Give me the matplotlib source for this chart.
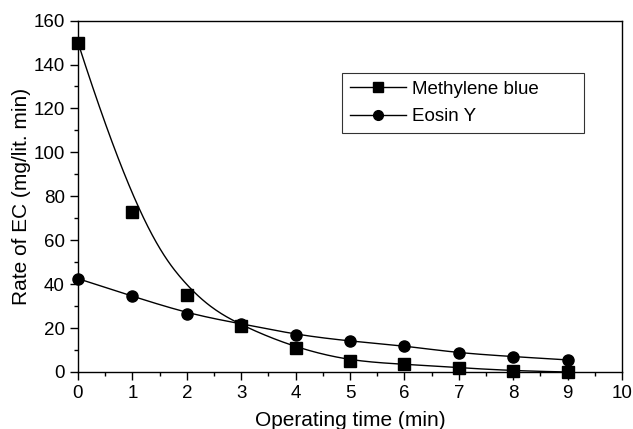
import numpy as np
import matplotlib
matplotlib.use("Agg")
import matplotlib.pyplot as plt
from matplotlib.ticker import MultipleLocator

plt.rcParams["font.family"] = ["Liberation Sans", "DejaVu Sans"]

# operating time (min)
time_min = [0, 1, 2, 3, 4, 5, 6, 7, 8, 9]
# rate of EC (mg/lit. min)
methylene_blue = [150, 73, 35, 21, 11, 5, 3.5, 2, 0.5, 0]
eosin_y = [42.5, 34.5, 26.5, 22, 17, 14, 12, 8.5, 7, 5.5]


def bspline(xs, ys, n=300):
    # clamped cubic B-spline using the data points as control points
    pts = np.column_stack([xs, ys]).astype(float)
    m = len(pts)
    deg = 3
    knots = np.concatenate([np.zeros(deg), np.arange(m - deg + 1), np.full(deg, m - deg)])
    t = np.linspace(0, m - deg, n)
    t[-1] -= 1e-9

    def basis(i, k, tt):
        if k == 0:
            return ((knots[i] <= tt) & (tt < knots[i + 1])).astype(float)
        out = np.zeros_like(tt)
        d1 = knots[i + k] - knots[i]
        d2 = knots[i + k + 1] - knots[i + 1]
        if d1 > 0:
            out += (tt - knots[i]) / d1 * basis(i, k - 1, tt)
        if d2 > 0:
            out += (knots[i + k + 1] - tt) / d2 * basis(i + 1, k - 1, tt)
        return out

    curve = sum(basis(i, deg, t)[:, None] * pts[i] for i in range(m))
    return curve[:, 0], curve[:, 1]


fig = plt.figure(figsize=(6.33, 4.29), dpi=100)
ax = fig.add_axes([0.1232, 0.1329, 0.8594, 0.8191])

bx, by = bspline(time_min, methylene_blue)
ax.plot(bx, by, color="black", linewidth=1.0)
ax.plot(time_min, methylene_blue, "s", color="black", markersize=8, clip_on=False, zorder=3)
ex, ey = bspline(time_min, eosin_y)
ax.plot(ex, ey, color="black", linewidth=1.0)
ax.plot(time_min, eosin_y, "o", color="black", markersize=8, clip_on=False, zorder=3)

# legend proxies
ax.plot([], [], "-s", color="black", markersize=7, linewidth=1.0, label="Methylene blue")
ax.plot([], [], "-o", color="black", markersize=7, linewidth=1.0, label="Eosin Y")
leg = ax.legend(loc="upper left", bbox_to_anchor=(0.485, 0.678, 0.446, 0.173), mode="expand",
                frameon=True, fancybox=False, edgecolor="black", fontsize=13.5,
                handlelength=3.0, borderpad=0.42, labelspacing=0.55, handletextpad=0.3,
                borderaxespad=0)
leg.get_frame().set_linewidth(0.8)

ax.set_xlim(0, 10)
ax.set_ylim(0, 160)
ax.xaxis.set_major_locator(MultipleLocator(1))
ax.xaxis.set_minor_locator(MultipleLocator(0.5))
ax.yaxis.set_major_locator(MultipleLocator(20))
ax.yaxis.set_minor_locator(MultipleLocator(10))
ax.tick_params(which="both", direction="out", top=False, right=False, labelsize=13.5, width=1)
ax.tick_params(which="major", length=6)
ax.tick_params(which="minor", length=3)
for s in ax.spines.values():
    s.set_linewidth(1)

ax.set_xlabel("Operating time (min)", fontsize=15, labelpad=6)
ax.set_ylabel("Rate of EC (mg/lit. min)", fontsize=15, labelpad=2)

fig.savefig("out.png", dpi=100)
